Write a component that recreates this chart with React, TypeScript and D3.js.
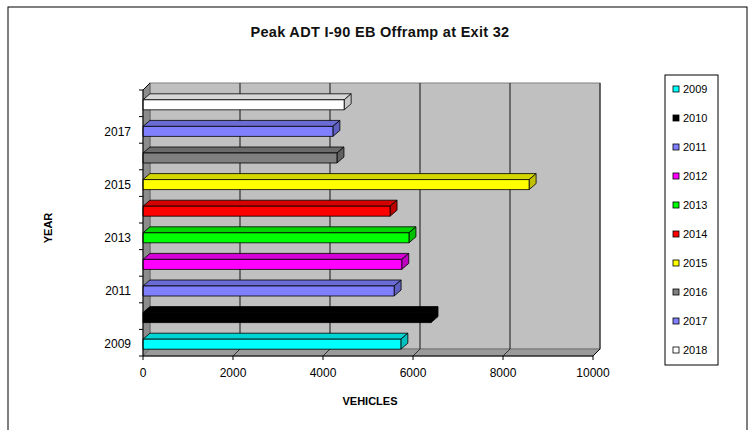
import React from "react";
import * as d3 from "d3";

const years = ["2009", "2010", "2011", "2012", "2013", "2014", "2015", "2016", "2017", "2018"];
const vehicles = [5730, 6400, 5580, 5750, 5910, 5490, 8580, 4310, 4220, 4470];
const colors = ["#00FFFF", "#000000", "#8080FF", "#FF00FF", "#00FF00", "#FF0000", "#FFFF00", "#808080", "#8080FF", "#FFFFFF"];
const xTicks = [0, 2000, 4000, 6000, 8000, 10000];
const yLabelYears = ["2009", "2011", "2013", "2015", "2017"];

const FONT = "'Liberation Sans', Arial, sans-serif";

export default function App() {
  const W = 752, H = 430;
  const x0 = 143, x1 = 593, yTop = 90, yBot = 356;
  const DX = 7, DY = 7; // wall depth
  const BDX = 7, BDY = 6; // bar depth
  const x = d3.scaleLinear().domain([0, 10000]).range([x0, x1]);
  const y = d3.scaleBand().domain([...years].reverse()).range([yTop, yBot]).paddingInner(0);
  const bw = y.bandwidth();

  const pts = (arr: [number, number][]) => arr.map((p) => p.join(",")).join(" ");

  return (
    <svg width={W} height={H} style={{ position: "absolute", left: 0, top: 0, background: "#fff" }} fontFamily={FONT}>
      <rect x={8} y={7} width={739} height={440} fill="#fff" stroke="#000" strokeWidth={1} />
      <text x={380} y={37} textAnchor="middle" fontSize={14.5} fontWeight="bold" letterSpacing={0.3} fill="#111">
        Peak ADT I-90 EB Offramp at Exit 32
      </text>

      {/* back wall */}
      <rect x={x0 + DX} y={yTop - DY} width={x1 - x0} height={yBot - yTop} fill="#C0C0C0" stroke="#808080" strokeWidth={1} />
      {/* side wall */}
      <polygon points={pts([[x0, yTop], [x0 + DX, yTop - DY], [x0 + DX, yBot - DY], [x0, yBot]])} fill="#8C8C8C" stroke="#606060" strokeWidth={0.8} />
      {/* floor */}
      <polygon points={pts([[x0, yBot], [x0 + DX, yBot - DY], [x1 + DX, yBot - DY], [x1, yBot]])} fill="#9A9A9A" stroke="#707070" strokeWidth={0.8} />
      {/* gridlines */}
      {xTicks.slice(1).map((t) => (
        <g key={t}>
          <line x1={x(t) + DX} x2={x(t) + DX} y1={yTop - DY} y2={yBot - DY} stroke="#303030" strokeWidth={1.2} />
          <line x1={x(t)} x2={x(t) + DX} y1={yBot} y2={yBot - DY} stroke="#303030" strokeWidth={1} />
        </g>
      ))}

      {/* bars */}
      {years.map((yr, i) => {
        const c = (y(yr) as number) + bw / 2;
        const top = c - 3.5, bot = c + 6.5;
        const xv = x(vehicles[i]);
        const col = d3.color(colors[i])!;
        const topCol = colors[i] === "#FFFFFF" ? "#D8D8D8" : col.darker(0.5).formatHex();
        const sideCol = colors[i] === "#FFFFFF" ? "#C8C8C8" : col.darker(0.8).formatHex();
        return (
          <g key={yr} stroke="#000" strokeWidth={0.8} strokeLinejoin="round">
            <polygon points={pts([[x0, top], [xv, top], [xv + BDX, top - BDY], [x0 + BDX, top - BDY]])} fill={topCol} />
            <polygon points={pts([[xv, top], [xv + BDX, top - BDY], [xv + BDX, bot - BDY], [xv, bot]])} fill={sideCol} />
            <rect x={x0} y={top} width={xv - x0} height={bot - top} fill={colors[i]} />
          </g>
        );
      })}

      {/* axes */}
      <line x1={x0} x2={x0} y1={yTop} y2={yBot} stroke="#000" strokeWidth={1} />
      <line x1={x0} x2={x0 + DX} y1={yTop} y2={yTop - DY} stroke="#000" strokeWidth={1} />
      <line x1={x0} x2={x1} y1={yBot} y2={yBot} stroke="#000" strokeWidth={1} />
      <line x1={x1} x2={x1 + DX} y1={yBot} y2={yBot - DY} stroke="#000" strokeWidth={1} />
      {d3.range(years.length + 1).map((k) => {
        const yy = yTop + k * bw;
        return <line key={k} x1={x0 - 4} x2={x0} y1={yy} y2={yy} stroke="#000" strokeWidth={1} />;
      })}
      {xTicks.map((t) => (
        <g key={t}>
          <line x1={x(t)} x2={x(t)} y1={yBot} y2={yBot + 4} stroke="#000" strokeWidth={1} />
          <text x={x(t)} y={377} textAnchor="middle" fontSize={12} fill="#000">{t}</text>
        </g>
      ))}
      {yLabelYears.map((yr) => {
        const c = (y(yr) as number) + bw / 2;
        return (
          <text key={yr} x={131} y={c + 1.5} dy="0.35em" textAnchor="end" fontSize={12} fill="#000">{yr}</text>
        );
      })}
      <text x={370} y={405} textAnchor="middle" fontSize={11} fontWeight="bold" fill="#000">VEHICLES</text>
      <text transform="translate(52,228) rotate(-90)" textAnchor="middle" fontSize={11} fontWeight="bold" fill="#000">YEAR</text>

      {/* legend */}
      <rect x={665} y={75} width={53} height={290} fill="#fff" stroke="#000" strokeWidth={1} />
      {years.map((yr, i) => {
        const ly = 89 + i * 29;
        return (
          <g key={yr}>
            <rect x={673} y={ly - 3} width={6} height={6} fill={colors[i]} stroke="#000" strokeWidth={0.8} />
            <text x={683} y={ly} dy="0.35em" fontSize={11} fill="#000">{yr}</text>
          </g>
        );
      })}
    </svg>
  );
}
